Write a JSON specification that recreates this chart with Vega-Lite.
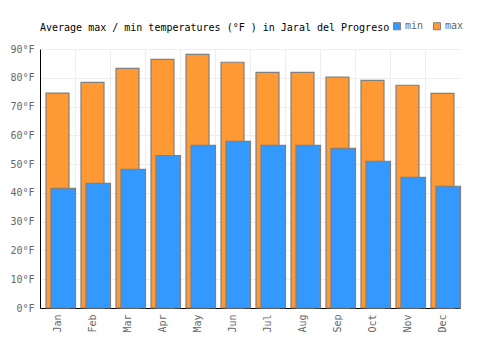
{
  "$schema": "https://vega.github.io/schema/vega-lite/v6.json",
  "width": 420,
  "height": 259,
  "autosize": "none",
  "padding": {"left": 40, "top": 49, "right": 40, "bottom": 42},
  "background": "white",
  "title": {
    "text": "Average max / min temperatures (°F ) in Jaral del Progreso",
    "font": "DejaVu Sans Mono",
    "fontSize": 10,
    "fontWeight": "normal",
    "color": "#000000",
    "anchor": "start",
    "frame": "group",
    "offset": 0,
    "dy": 12
  },
  "data": {
    "values": [
      {"month": "Jan", "min": 41.6, "max": 74.7},
      {"month": "Feb", "min": 43.3, "max": 78.4},
      {"month": "Mar", "min": 48.2, "max": 83.3},
      {"month": "Apr", "min": 53.0, "max": 86.4},
      {"month": "May", "min": 56.5, "max": 88.1},
      {"month": "Jun", "min": 57.9, "max": 85.4},
      {"month": "Jul", "min": 56.5, "max": 81.9},
      {"month": "Aug", "min": 56.5, "max": 81.9},
      {"month": "Sep", "min": 55.5, "max": 80.2},
      {"month": "Oct", "min": 51.0, "max": 79.1},
      {"month": "Nov", "min": 45.4, "max": 77.4},
      {"month": "Dec", "min": 42.3, "max": 74.6}
    ]
  },
  "encoding": {
    "x": {
      "field": "month",
      "type": "nominal",
      "sort": null,
      "scale": {"paddingInner": 0, "paddingOuter": 0},
      "axis": {
        "title": null,
        "labelAngle": -90,
        "labelFont": "DejaVu Sans Mono",
        "labelFontSize": 10,
        "labelColor": "#666666",
        "labelPadding": 6,
        "ticks": false,
        "domainColor": "#000000",
        "domainWidth": 1,
        "grid": true,
        "bandPosition": 0,
        "gridColor": "#eeeeee",
        "gridWidth": 1
      }
    }
  },
  "layer": [
    {
      "mark": {"type": "bar", "width": 23, "stroke": "#808080", "strokeWidth": 1.2},
      "encoding": {
        "y": {
          "field": "max",
          "type": "quantitative",
          "scale": {"domain": [0, 90], "nice": false},
          "axis": {
            "title": null,
            "values": [0, 10, 20, 30, 40, 50, 60, 70, 80, 90],
            "labelExpr": "datum.value + '°F'",
            "labelFont": "DejaVu Sans Mono",
            "labelFontSize": 10,
            "labelColor": "#666666",
            "labelPadding": 6,
            "labelOverlap": false,
            "ticks": false,
            "domainColor": "#000000",
            "domainWidth": 1,
            "gridColor": "#eeeeee",
            "gridWidth": 1
          }
        },
        "color": {
          "datum": "max",
          "type": "nominal",
          "scale": {"domain": ["min", "max"], "range": ["#3399ff", "#ff9933"]},
          "legend": {
            "title": null,
            "orient": "none",
            "direction": "horizontal",
            "legendX": 352,
            "legendY": -28,
            "symbolType": "square",
            "symbolSize": 50,
            "symbolStrokeColor": "#808080",
            "symbolStrokeWidth": 1,
            "labelFont": "DejaVu Sans Mono",
            "labelFontSize": 10,
            "labelColor": "#666666",
            "labelOffset": 3,
            "columnPadding": 7
          }
        }
      }
    },
    {
      "mark": {"type": "bar", "width": 24.5, "xOffset": 5.75, "stroke": "#808080", "strokeWidth": 1.2},
      "encoding": {
        "y": {
          "field": "min",
          "type": "quantitative",
          "scale": {"domain": [0, 90], "nice": false},
          "axis": {
            "title": null,
            "values": [0, 10, 20, 30, 40, 50, 60, 70, 80, 90],
            "labelExpr": "datum.value + '°F'",
            "labelFont": "DejaVu Sans Mono",
            "labelFontSize": 10,
            "labelColor": "#666666",
            "labelPadding": 6,
            "labelOverlap": false,
            "ticks": false,
            "domainColor": "#000000",
            "domainWidth": 1,
            "gridColor": "#eeeeee",
            "gridWidth": 1
          }
        },
        "color": {"datum": "min", "type": "nominal"}
      }
    }
  ],
  "config": {
    "view": {"stroke": null}
  }
}
